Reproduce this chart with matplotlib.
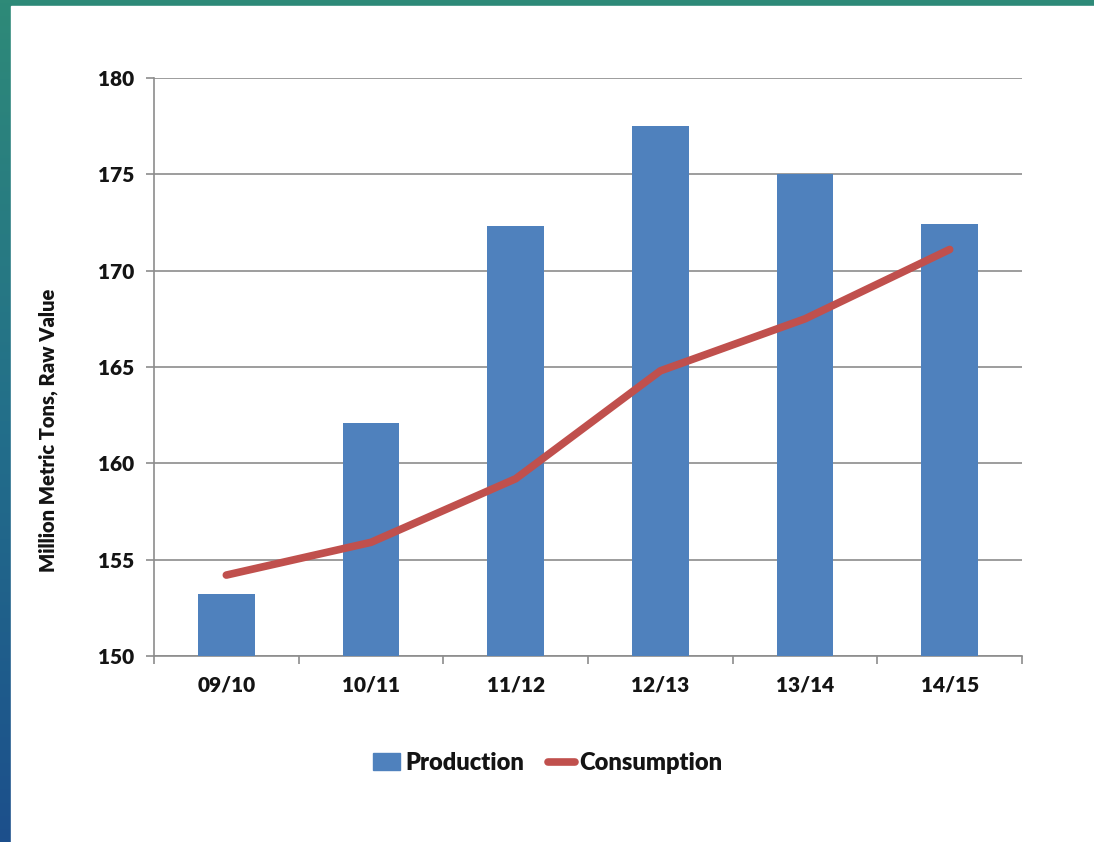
import numpy as np
import matplotlib
matplotlib.use("Agg")
import matplotlib.pyplot as plt
from matplotlib.patches import Rectangle
from matplotlib.lines import Line2D
from matplotlib.colors import LinearSegmentedColormap

categories = ["09/10", "10/11", "11/12", "12/13", "13/14", "14/15"]
production = [153.2, 162.1, 172.3, 177.5, 175.0, 172.4]
consumption = [154.2, 155.9, 159.2, 164.8, 167.5, 171.1]
yticks = [150, 155, 160, 165, 170, 175, 180]

plt.rcParams['font.family'] = ['Lato', 'DejaVu Sans']
WEIGHT = "heavy"
TXT = "#141414"

W, H = 1094, 842
fig = plt.figure(figsize=(W / 100, H / 100), dpi=100)

# background gradient
bg = fig.add_axes([0, 0, 1, 1])
bg.set_axis_off()
cmap = LinearSegmentedColormap.from_list("bg", ["#1c4f8c", "#236f8a", "#2e8a78"])
grad = np.linspace(0, 1, 256).reshape(-1, 1)
bg.imshow(grad, aspect="auto", cmap=cmap, extent=[0, 1, 0, 1], origin="lower")
bg.add_patch(Rectangle((11 / W, 0), 1 - 11 / W, 1 - 6 / H, color="white", zorder=2))
bg.set_xlim(0, 1)
bg.set_ylim(0, 1)

ax = fig.add_axes([154 / W, 1 - 656 / H, (1022 - 154) / W, (656 - 78) / H])
ax.set_facecolor("none")
x = np.arange(len(categories))
ax.bar(x, production, width=0.39, color="#4f81bd", zorder=3)
ax.plot(x, consumption, color="#c0504d", lw=5.5, solid_capstyle="round", zorder=4)

ax.set_ylim(150, 180)
ax.set_xlim(-0.5, len(categories) - 0.5)
ax.set_yticks(yticks)
ax.set_yticklabels([str(t) for t in yticks], fontsize=15, fontweight=WEIGHT, color=TXT)
ax.set_xticks(x)
ax.set_xticklabels(categories, fontsize=15, fontweight=WEIGHT, color=TXT)
ax.set_xticks(np.arange(-0.5, len(categories), 1.0), minor=True)
ax.tick_params(axis="x", which="major", length=0, pad=14)
ax.tick_params(axis="x", which="minor", length=6, color="#8c8c8c", width=1.2)
ax.tick_params(axis="y", length=6, color="#8c8c8c", width=1.2, pad=8)
ax.grid(axis="y", color="#8c8c8c", lw=1.2, zorder=0)
for s in ["top", "right"]:
    ax.spines[s].set_visible(False)
for s in ["left", "bottom"]:
    ax.spines[s].set_color("#8c8c8c")
    ax.spines[s].set_linewidth(1.2)
ax.set_axisbelow(True)

fig.text(48 / W, 1 - 430 / H, "Million Metric Tons, Raw Value", rotation=90,
         ha="center", va="center", fontsize=14.5, fontweight=WEIGHT, color=TXT)

handles = [Rectangle((0, 0), 1, 1, color="#4f81bd"),
           Line2D([0], [0], color="#c0504d", lw=5.5, solid_capstyle="round")]
fig.legend(handles, ["Production", "Consumption"], loc="center",
           bbox_to_anchor=(548 / W, 1 - 763 / H), ncol=2, frameon=False,
           prop={"size": 17, "weight": WEIGHT}, handlelength=1.15, handleheight=0.7,
           handletextpad=0.2, columnspacing=1.0, labelcolor=TXT)

fig.savefig("out.png", dpi=100)
